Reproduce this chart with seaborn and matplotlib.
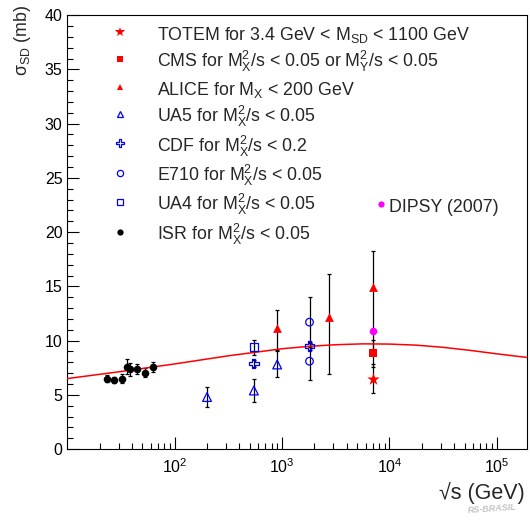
import numpy as np
import pandas as pd
import matplotlib
matplotlib.use("Agg")
import matplotlib.pyplot as plt
import seaborn as sns
from matplotlib.lines import Line2D
from matplotlib.ticker import FixedLocator, LogLocator, MultipleLocator, NullFormatter, FixedFormatter

# ---------------- data ----------------
isr_sqrts = [23.5, 27.2, 32.2, 35.6, 38.3, 44.3, 53.3, 62.4]
isr_sigma = [6.5, 6.35, 6.5, 7.6, 7.35, 7.4, 7.05, 7.55]
isr_err = [0.3, 0.3, 0.45, 0.7, 0.6, 0.45, 0.4, 0.45]

ua5_sqrts = [200, 546, 900]
ua5_sigma = [4.8, 5.4, 7.8]
ua5_err = [0.9, 1.1, 1.2]

ua4_sqrts = [546]
ua4_sigma = [9.4]
ua4_err = [0.7]

cdf_sqrts = [546, 1800]
cdf_sigma = [7.9, 9.5]
cdf_err = [0.3, 0.4]

e710_sqrts = [1800, 1800]
e710_sigma = [11.7, 8.1]
e710_err = [2.3, 1.7]

alice_sqrts = [900, 2760, 7000]
alice_sigma = [11.2, 12.2, 14.9]
alice_err_lo = [2.1, 5.3, 5.9]
alice_err_hi = [1.6, 3.9, 3.4]

cms_sqrts = [7000]
cms_sigma = [8.84]
cms_err = [1.25]

totem_sqrts = [7000]
totem_sigma = [6.5]
totem_err = [1.3]

dipsy_sqrts = [7000]
dipsy_sigma = [10.9]

curve_sqrts = [10, 31.6, 100, 316, 1000, 1778, 3162, 5623, 10000, 17783,
               31623, 56234, 100000, 190000]
curve_sigma = [6.5, 7.15, 7.85, 8.6, 9.25, 9.47, 9.62, 9.7, 9.68, 9.58,
               9.38, 9.1, 8.78, 8.45]

y_ticks = [0, 5, 10, 15, 20, 25, 30, 35, 40]
x_ticks = [1e2, 1e3, 1e4, 1e5]
x_ticklabels = ["$10^{2}$", "$10^{3}$", "$10^{4}$", "$10^{5}$"]

labels = [
    "TOTEM for 3.4 GeV < M$_{\\mathrm{SD}}$ < 1100 GeV",
    "CMS for M$_{\\mathrm{X}}^{2}$/s < 0.05 or M$_{\\mathrm{Y}}^{2}$/s < 0.05",
    "ALICE for M$_{\\mathrm{X}}$ < 200 GeV",
    "UA5 for M$_{\\mathrm{X}}^{2}$/s < 0.05",
    "CDF for M$_{\\mathrm{X}}^{2}$/s < 0.2",
    "E710 for M$_{\\mathrm{X}}^{2}$/s < 0.05",
    "UA4 for M$_{\\mathrm{X}}^{2}$/s < 0.05",
    "ISR for M$_{\\mathrm{X}}^{2}$/s < 0.05",
]
dipsy_label = "DIPSY (2007)"

# ---------------- style ----------------
sns.set_style("ticks")
plt.rcParams["font.family"] = ["Liberation Sans", "DejaVu Sans"]
plt.rcParams["mathtext.fontset"] = "custom"
plt.rcParams["mathtext.rm"] = "Liberation Sans"
plt.rcParams["mathtext.it"] = "Liberation Sans:italic"
plt.rcParams["mathtext.bf"] = "Liberation Sans:bold"
plt.rcParams["axes.linewidth"] = 0.8

fig = plt.figure(figsize=(5.30, 5.21), dpi=100)
ax = fig.add_axes([0.127, 0.138, 0.867, 0.833])

RED = "#ff0000"
BLUE = "#0000ff"
MAG = "#ff00ff"

eb = dict(fmt="none", ecolor="black", elinewidth=0.9, capsize=1.7, capthick=0.9, zorder=2)

# error bars
ax.errorbar(isr_sqrts, isr_sigma, yerr=isr_err, **eb)
ax.errorbar(ua5_sqrts, ua5_sigma, yerr=ua5_err, **eb)
ax.errorbar(ua4_sqrts, ua4_sigma, yerr=ua4_err, **eb)
ax.errorbar(cdf_sqrts, cdf_sigma, yerr=cdf_err, **eb)
ax.errorbar(e710_sqrts, e710_sigma, yerr=e710_err, **eb)
ax.errorbar(alice_sqrts, alice_sigma, yerr=[alice_err_lo, alice_err_hi], **eb)
ax.errorbar(cms_sqrts, cms_sigma, yerr=cms_err, **eb)
ax.errorbar(totem_sqrts, totem_sigma, yerr=totem_err, **eb)

# curve
curve_df = pd.DataFrame({"sqrts": curve_sqrts, "sigma": curve_sigma})
sns.lineplot(data=curve_df, x="sqrts", y="sigma", color=RED, linewidth=1.1,
             ax=ax, zorder=3, estimator=None, sort=True)


def filled(xs, ys, marker, s, color):
    sns.scatterplot(x=xs, y=ys, marker=marker, s=s, color=color,
                    linewidth=0, ax=ax, zorder=4)


def hollow(xs, ys, marker, s, color):
    sns.scatterplot(x=xs, y=ys, marker=marker, s=s, color=color, ax=ax, zorder=4)
    c = ax.collections[-1]
    c.set_facecolor("none")
    c.set_edgecolor(color)
    c.set_linewidth(0.9)


filled(isr_sqrts, isr_sigma, "o", 30, "black")
hollow(ua5_sqrts, ua5_sigma, "^", 40, BLUE)
hollow(ua4_sqrts, ua4_sigma, "s", 30, BLUE)
hollow(cdf_sqrts, cdf_sigma, "P", 45, BLUE)
hollow(e710_sqrts, e710_sigma, "o", 30, BLUE)
filled(alice_sqrts, alice_sigma, "^", 40, RED)
filled(cms_sqrts, cms_sigma, "s", 30, RED)
filled(totem_sqrts, totem_sigma, "*", 90, RED)
filled(dipsy_sqrts, dipsy_sigma, "o", 30, MAG)

# axes
ax.set_xscale("log")
ax.set_xlim(10, 1.9e5)
ax.set_ylim(0, 40)
ax.xaxis.set_major_locator(FixedLocator(x_ticks))
ax.xaxis.set_major_formatter(FixedFormatter(x_ticklabels))
ax.xaxis.set_minor_locator(LogLocator(base=10, subs=np.arange(2, 10)))
ax.xaxis.set_minor_formatter(NullFormatter())
ax.yaxis.set_major_locator(FixedLocator(y_ticks))
ax.yaxis.set_minor_locator(MultipleLocator(1))
ax.tick_params(which="both", direction="in", top=False, right=False,
               width=0.8, colors="black", labelsize=11.5)
ax.tick_params(which="major", length=8.5)
ax.tick_params(which="minor", length=4.3)
ax.tick_params(axis="x", which="major", pad=6.2)
ax.tick_params(axis="y", which="major", pad=3.5)
for sp in ax.spines.values():
    sp.set_visible(True)
    sp.set_color("black")

ax.set_xlabel("√s (GeV)", fontsize=15.5, loc="right")
ax.xaxis.set_label_coords(0.9956, -0.076)
ax.xaxis.label.set_verticalalignment("top")
ax.set_ylabel("σ$_{\\mathrm{SD}}$ (mb)", fontsize=12.8, loc="top")
ax.yaxis.set_label_coords(-0.075, 1.023)

# legends
handles = [
    Line2D([], [], ls="none", marker="*", markersize=7.5, markerfacecolor=RED, markeredgecolor=RED, markeredgewidth=0),
    Line2D([], [], ls="none", marker="s", markersize=4.5, markerfacecolor=RED, markeredgecolor=RED, markeredgewidth=0),
    Line2D([], [], ls="none", marker="^", markersize=5, markerfacecolor=RED, markeredgecolor=RED, markeredgewidth=0),
    Line2D([], [], ls="none", marker="^", markersize=5, markerfacecolor="none", markeredgecolor=BLUE, markeredgewidth=0.9),
    Line2D([], [], ls="none", marker="P", markersize=5.5, markerfacecolor="none", markeredgecolor=BLUE, markeredgewidth=0.9),
    Line2D([], [], ls="none", marker="o", markersize=4.5, markerfacecolor="none", markeredgecolor=BLUE, markeredgewidth=0.9),
    Line2D([], [], ls="none", marker="s", markersize=4.5, markerfacecolor="none", markeredgecolor=BLUE, markeredgewidth=0.9),
    Line2D([], [], ls="none", marker="o", markersize=4.5, markerfacecolor="black", markeredgecolor="black", markeredgewidth=0),
]
leg = ax.legend(handles, labels, loc="upper left", bbox_to_anchor=(0.0953, 0.980),
                frameon=False, fontsize=12.8, handlelength=1.0, handleheight=1.4,
                labelspacing=0.24, handletextpad=1.58, borderpad=0, borderaxespad=0)
ax.add_artist(leg)

dh = [Line2D([], [], ls="none", marker="o", markersize=4.5, markerfacecolor=MAG,
             markeredgecolor=MAG, markeredgewidth=0)]
ax.legend(dh, [dipsy_label], loc="upper left", bbox_to_anchor=(0.6735, 0.583),
          frameon=False, fontsize=12.8, handlelength=0.5, handleheight=1.4,
          handletextpad=0.2, borderpad=0, borderaxespad=0)

# faint watermark
fig.text(0.928, 0.012, "RS-BRASIL", fontsize=6.5, color="#c4c4c4",
         style="italic", fontweight="bold", ha="center", va="bottom", rotation=4)

fig.savefig("out.png", dpi=100)
